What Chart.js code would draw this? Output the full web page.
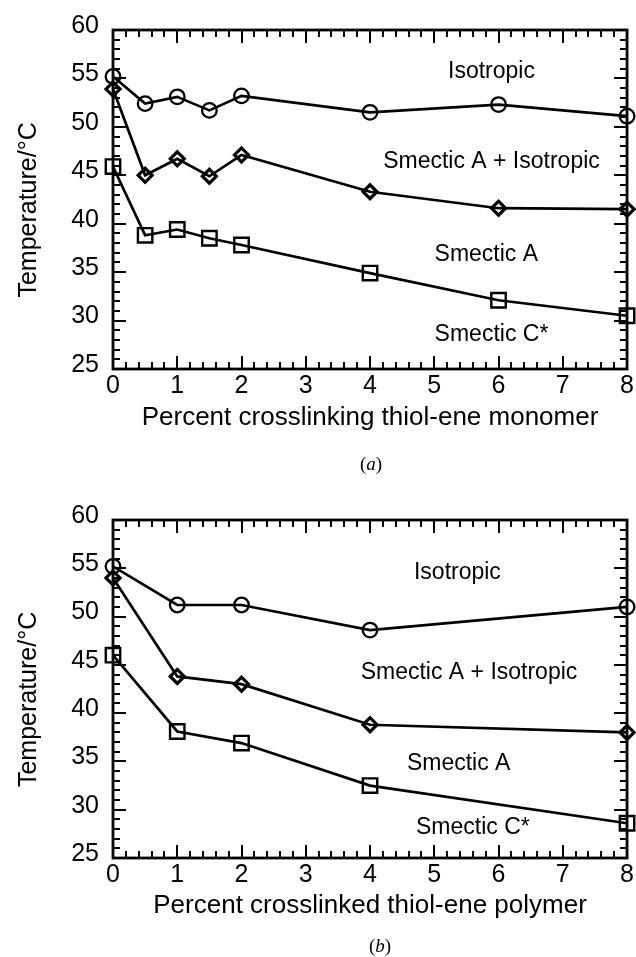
<!DOCTYPE html>
<html><head><meta charset="utf-8">
<script src="https://cdn.jsdelivr.net/npm/chart.js@4"></script>
<style>
html,body{margin:0;padding:0;background:#fff;}
#wrap{position:relative;width:636px;height:957px;overflow:hidden;}
canvas{position:absolute;left:0;}
.cap{position:absolute;font-family:"Liberation Serif",serif;font-size:19px;transform:translate(-50%,-50%);color:#000;}
</style></head><body>
<div id="wrap">
<canvas id="c1" width="636" height="480" style="top:0"></canvas>
<canvas id="c2" width="636" height="477" style="top:480px"></canvas>
<div class="cap" style="left:371px;top:464px">(<i>a</i>)</div>
<div class="cap" style="left:380px;top:946px">(<i>b</i>)</div>
</div>
<script>
// ---- data (a): crosslinking thiol-ene monomer ----
const xMonomer      = [0, 0.5, 1, 1.5, 2, 4, 6, 8];
const isoMonomer    = [55.2, 52.4, 53.1, 51.7, 53.2, 51.5, 52.3, 51.1];
const smaIsoMonomer = [53.9, 45.0, 46.7, 44.9, 47.1, 43.3, 41.6, 41.5];
const smcMonomer    = [45.9, 38.8, 39.4, 38.5, 37.8, 34.9, 32.1, 30.5];
// ---- data (b): crosslinked thiol-ene polymer ----
const xPolymer      = [0, 1, 2, 4, 8];
const isoPolymer    = [55.2, 51.2, 51.2, 48.6, 51.0];
const smaIsoPolymer = [54.0, 43.8, 43.0, 38.8, 38.0];
const smcPolymer    = [46.0, 38.1, 36.9, 32.5, 28.6];
// ---- axes ----
const xTickLabels = [0, 1, 2, 3, 4, 5, 6, 7, 8];
const yTickLabels = [25, 30, 35, 40, 45, 50, 55, 60];
const phaseNames = ['Isotropic', 'Smectic A + Isotropic', 'Smectic A', 'Smectic C*'];
const phaseXA = [5.89, 5.89, 5.81, 5.89];
const phaseYA = [55.7, 46.4, 36.8, 28.5];
const phaseXB = [5.36, 5.54, 5.38, 5.60];
const phaseYB = [54.5, 44.2, 34.8, 28.1];

const SANS = '"Liberation Sans", Arial, Helvetica, sans-serif';

const framePlugin = {
  id: 'frameTicks',
  afterDatasetsDraw(chart) {
    const {ctx, chartArea: a} = chart;
    const xs = chart.scales.x, ys = chart.scales.y;
    ctx.save();
    ctx.strokeStyle = '#000';
    ctx.lineWidth = 2;
    const xmin = xTickLabels[0], xmax = xTickLabels[xTickLabels.length - 1];
    const ymin = yTickLabels[0], ymax = yTickLabels[yTickLabels.length - 1];
    ctx.beginPath();
    for (let i = 0; i <= (xmax - xmin) * 5; i++) {
      const v = xmin + i / 5;
      const px = Math.round(xs.getPixelForValue(v));
      const len = (i % 5 === 0) ? 13 : 7;
      ctx.moveTo(px, a.bottom); ctx.lineTo(px, a.bottom - len);
      ctx.moveTo(px, a.top); ctx.lineTo(px, a.top + len);
    }
    for (let v = ymin; v <= ymax; v++) {
      const py = Math.round(ys.getPixelForValue(v));
      const len = (v % 5 === 0) ? 13 : 7;
      ctx.moveTo(a.left, py); ctx.lineTo(a.left + len, py);
      ctx.moveTo(a.right, py); ctx.lineTo(a.right - len, py);
    }
    ctx.stroke();
    ctx.lineWidth = 2.8;
    ctx.strokeRect(a.left, a.top, a.right - a.left, a.bottom - a.top);
    // phase labels at data coordinates
    const ph = chart.options.plugins.frameTicks;
    ctx.fillStyle = '#000';
    ctx.font = '23px ' + SANS;
    ctx.textAlign = 'center';
    ctx.textBaseline = 'middle';
    phaseNames.forEach((t, i) => {
      ctx.fillText(t, xs.getPixelForValue(ph.px[i]), ys.getPixelForValue(ph.py[i]));
    });
    ctx.restore();
  }
};

function series(xv, yv, style, radius, bw) {
  return {
    data: xv.map((x, i) => ({x: x, y: yv[i]})),
    borderColor: '#000', borderWidth: 2.7, tension: 0,
    pointStyle: style, pointRadius: radius, pointHoverRadius: radius,
    pointBackgroundColor: 'rgba(0,0,0,0)', pointBorderColor: '#000', pointBorderWidth: bw,
    clip: false, fill: false
  };
}

function makeChart(id, xv, iso, smaIso, smc, xTitle, padTop, xHeight, titlePadBottom, px, py) {
  return new Chart(document.getElementById(id), {
    type: 'line',
    data: {
      datasets: [
        series(xv, iso, 'circle', 7.3, 2.3),
        series(xv, smaIso, 'rectRot', 7, 3.2),
        series(xv, smc, 'rect', 10.2, 2.4)
      ]
    },
    options: {
      responsive: false, animation: false, devicePixelRatio: 1,
      layout: {autoPadding: false, padding: {top: padTop, right: 7, left: 0, bottom: 0}},
      plugins: {legend: {display: false}, tooltip: {enabled: false}, frameTicks: {px: px, py: py}},
      scales: {
        x: {
          type: 'linear', min: xTickLabels[0], max: xTickLabels[xTickLabels.length - 1],
          grid: {display: false, drawTicks: false}, border: {display: false},
          ticks: {stepSize: 1, color: '#000', font: {family: SANS, size: 25}, padding: 2, maxRotation: 0,
                  callback: v => xTickLabels.includes(v) ? String(v) : ''},
          title: {display: true, text: xTitle, color: '#000', font: {family: SANS, size: 26},
                  padding: {top: 0, bottom: titlePadBottom}},
          afterFit: s => { s.height = xHeight; }
        },
        y: {
          type: 'linear', min: yTickLabels[0], max: yTickLabels[yTickLabels.length - 1],
          grid: {display: false, drawTicks: false}, border: {display: false},
          ticks: {stepSize: 5, color: '#000', font: {family: SANS, size: 25}, padding: 14, labelOffset: -4,
                  callback: v => yTickLabels.includes(v) ? String(v) : ''},
          title: {display: true, text: 'Temperature/°C   ', color: '#000', font: {family: SANS, size: 25},
                  padding: {top: 14, bottom: 0}},
          afterFit: s => { s.width = 113; }
        }
      }
    },
    plugins: [framePlugin]
  });
}

makeChart('c1', xMonomer, isoMonomer, smaIsoMonomer, smcMonomer,
  'Percent crosslinking thiol-ene monomer', 30, 111, 47, phaseXA, phaseYA);
makeChart('c2', xPolymer, isoPolymer, smaIsoPolymer, smcPolymer,
  'Percent crosslinked thiol-ene polymer', 40, 99, 36, phaseXB, phaseYB);
</script>
</body></html>
